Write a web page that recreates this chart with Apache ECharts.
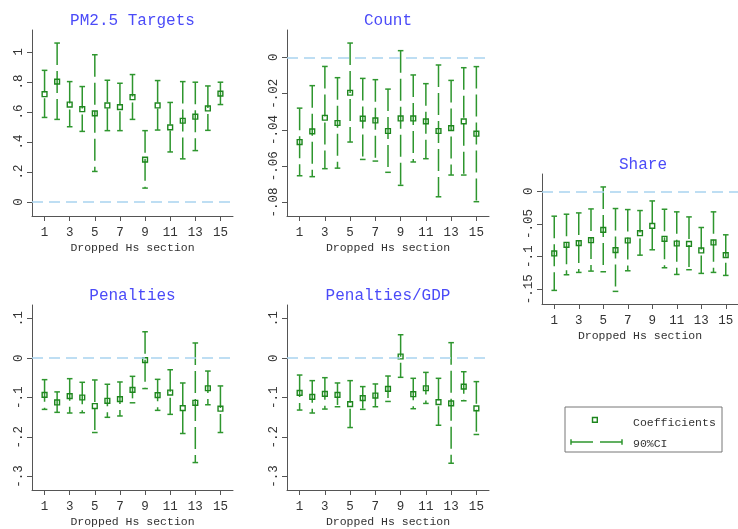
<!DOCTYPE html>
<html>
<head>
<meta charset="utf-8">
<script src="https://cdn.jsdelivr.net/npm/echarts@6/dist/echarts.min.js"></script>
<style>
  html, body { margin: 0; padding: 0; background: #fff; }
  #chart { width: 738px; height: 529px; }
</style>
</head>
<body>
<div id="chart"></div>
<script>
const sections = [1, 2, 3, 4, 5, 6, 7, 8, 9, 10, 11, 12, 13, 14, 15]
const xTicks = [1, 3, 5, 7, 9, 11, 13, 15]

// PM2.5 Targets
const pm25Coef = [0.719, 0.803, 0.650, 0.619, 0.591, 0.644, 0.633, 0.699, 0.283, 0.644, 0.498, 0.542, 0.569, 0.624, 0.723]
const pm25Lo = [0.564, 0.551, 0.502, 0.471, 0.204, 0.476, 0.476, 0.551, 0.093, 0.480, 0.334, 0.288, 0.343, 0.478, 0.650]
const pm25Hi = [0.878, 1.060, 0.803, 0.770, 0.982, 0.812, 0.792, 0.850, 0.476, 0.810, 0.664, 0.803, 0.799, 0.774, 0.799]
const pm25Ticks = [0, 0.2, 0.4, 0.6, 0.8, 1]

// Count
const countCoef = [-0.0467, -0.0408, -0.0333, -0.0362, -0.0195, -0.0338, -0.0348, -0.0406, -0.0337, -0.0337, -0.0353, -0.0406, -0.0390, -0.0353, -0.0421]
const countLo = [-0.0653, -0.0658, -0.0614, -0.0611, -0.0467, -0.0563, -0.0572, -0.0634, -0.0706, -0.0577, -0.0559, -0.0769, -0.0649, -0.0649, -0.0796]
const countHi = [-0.0280, -0.0156, -0.0050, -0.0112, 0.0079, -0.0116, -0.0123, -0.0175, 0.0037, -0.0097, -0.0145, -0.0042, -0.0127, -0.0057, -0.0051]
const countTicks = [0, -0.02, -0.04, -0.06, -0.08]

// Share
const shareCoef = [-0.0951, -0.0819, -0.0793, -0.0748, -0.0590, -0.0900, -0.0753, -0.0641, -0.0529, -0.0727, -0.0799, -0.0804, -0.0905, -0.0783, -0.0977]
const shareLo = [-0.1516, -0.1277, -0.1241, -0.1221, -0.1231, -0.1531, -0.1216, -0.0977, -0.0895, -0.1170, -0.1272, -0.1200, -0.1256, -0.1241, -0.1287]
const shareHi = [-0.0381, -0.0351, -0.0331, -0.0270, 0.0066, -0.0264, -0.0280, -0.0295, -0.0148, -0.0275, -0.0315, -0.0392, -0.0554, -0.0315, -0.0666]
const shareTicks = [0, -0.05, -0.1, -0.15]

// Penalties
const penCoef = [-0.0929, -0.1121, -0.0962, -0.0996, -0.1213, -0.1079, -0.1038, -0.0803, -0.0050, -0.0937, -0.0870, -0.1264, -0.1130, -0.0762, -0.1280]
const penLo = [-0.1297, -0.1372, -0.1389, -0.1381, -0.1883, -0.1498, -0.1464, -0.1130, -0.0770, -0.1322, -0.1423, -0.1908, -0.2644, -0.1180, -0.1883]
const penHi = [-0.0544, -0.0854, -0.0519, -0.0611, -0.0552, -0.0661, -0.0603, -0.0460, 0.0669, -0.0536, -0.0293, -0.0628, 0.0385, -0.0326, -0.0703]
const penTicks = [0.1, 0, -0.1, -0.2, -0.3]

// Penalties/GDP
const gdpCoef = [-0.0879, -0.0979, -0.0904, -0.0929, -0.1163, -0.1013, -0.0946, -0.0778, 0.0042, -0.0912, -0.0762, -0.1113, -0.1146, -0.0720, -0.1272]
const gdpLo = [-0.1314, -0.1389, -0.1289, -0.1230, -0.1757, -0.1297, -0.1230, -0.1096, -0.0485, -0.1280, -0.1146, -0.1699, -0.2661, -0.1079, -0.1933]
const gdpHi = [-0.0427, -0.0569, -0.0494, -0.0628, -0.0569, -0.0720, -0.0653, -0.0452, 0.0594, -0.0510, -0.0360, -0.0510, 0.0393, -0.0343, -0.0594]
const gdpTicks = [0.1, 0, -0.1, -0.2, -0.3]

const xName = 'Dropped Hs section'
const legendNames = ['Coefficients', '90%CI']

const FONT = '"Liberation Mono", "DejaVu Sans Mono", monospace'
const ciColor = '#2e962e'
const markColor = '#1d861d'
const axisColor = '#555'
const labelColor = '#333'
const zeroColor = '#a9d4f0'
const titleColor = '#4b4bf8'

// layout of the five panels
const panels = [
  { title: 'PM2.5 Targets', coef: pm25Coef, lo: pm25Lo, hi: pm25Hi, ticks: pm25Ticks,
    left: 32, top: 30, width: 201, height: 186, min: -0.093, max: 1.147 },
  { title: 'Count', coef: countCoef, lo: countLo, hi: countHi, ticks: countTicks,
    left: 287, top: 30, width: 202, height: 186, min: -0.0875, max: 0.0151 },
  { title: 'Share', coef: shareCoef, lo: shareLo, hi: shareHi, ticks: shareTicks,
    left: 542, top: 174, width: 202, height: 130, min: -0.1724, max: 0.0264 },
  { title: 'Penalties', coef: penCoef, lo: penLo, hi: penHi, ticks: penTicks,
    left: 32, top: 305, width: 201, height: 187, min: -0.3339, max: 0.1347 },
  { title: 'Penalties/GDP', coef: gdpCoef, lo: gdpLo, hi: gdpHi, ticks: gdpTicks,
    left: 287, top: 305, width: 202, height: 187, min: -0.3339, max: 0.1347 }
]

// stata style number: .2, -.05
const fmt = v => String(+v.toFixed(3)).replace('0.', '.')

function renderCI(params, api) {
  const x = api.value(0)
  const top = api.coord([x, api.value(2)])
  const bot = api.coord([x, api.value(1)])
  const cw = 2.8
  const style = { stroke: ciColor, lineWidth: 1.5 }
  return {
    type: 'group',
    children: [
      { type: 'line', shape: { x1: top[0], y1: top[1], x2: bot[0], y2: bot[1] },
        style: Object.assign({ lineDash: [22, 6] }, style) },
      { type: 'line', shape: { x1: top[0] - cw, y1: top[1], x2: top[0] + cw, y2: top[1] }, style },
      { type: 'line', shape: { x1: bot[0] - cw, y1: bot[1], x2: bot[0] + cw, y2: bot[1] }, style }
    ]
  }
}

const grid = [], xAxis = [], yAxis = [], series = [], title = []

panels.forEach((p, i) => {
  grid.push({ left: p.left, top: p.top, width: p.width, height: p.height })
  title.push({
    text: p.title,
    left: p.left + p.width / 2,
    top: p.top - 17,
    textAlign: 'center',
    padding: 0,
    textStyle: { fontFamily: FONT, fontSize: 16, fontWeight: 'normal', color: titleColor }
  })
  xAxis.push({
    type: 'value', gridIndex: i, min: 0, max: 16,
    name: xName, nameLocation: 'middle', nameGap: 26,
    nameTextStyle: { fontFamily: FONT, fontSize: 11.5, color: labelColor },
    axisLine: { show: true, onZero: false, lineStyle: { color: axisColor, width: 1 } },
    axisTick: { show: true, length: 5, customValues: xTicks, lineStyle: { color: axisColor } },
    axisLabel: { customValues: xTicks, margin: 10, fontFamily: FONT, fontSize: 12.5, color: labelColor },
    splitLine: { show: false }
  })
  yAxis.push({
    type: 'value', gridIndex: i, min: p.min, max: p.max,
    axisLine: { show: true, onZero: false, lineStyle: { color: axisColor, width: 1 } },
    axisTick: { show: true, length: 5, customValues: p.ticks, lineStyle: { color: axisColor } },
    axisLabel: { customValues: p.ticks, rotate: 90, margin: 7, fontFamily: FONT, fontSize: 12.5,
      color: labelColor, formatter: fmt },
    splitLine: { show: false }
  })
  series.push({
    name: legendNames[1], type: 'custom', xAxisIndex: i, yAxisIndex: i,
    renderItem: renderCI,
    encode: { x: 0, y: [1, 2] },
    data: sections.map((s, k) => [s, p.lo[k], p.hi[k]]),
    z: 2
  })
  series.push({
    name: legendNames[0], type: 'scatter', xAxisIndex: i, yAxisIndex: i,
    symbol: 'rect', symbolSize: 4.8,
    itemStyle: { color: 'rgba(0,0,0,0)', borderColor: markColor, borderWidth: 1.4, opacity: 1 },
    data: sections.map((s, k) => [s, p.coef[k]]),
    markLine: {
      silent: true, symbol: 'none', label: { show: false },
      lineStyle: { color: zeroColor, width: 1.5, type: [11, 6] },
      data: [{ yAxis: 0 }]
    },
    z: 3
  })
})

const graphic = [
  { type: 'rect', shape: { x: 565, y: 407, width: 157, height: 45 },
    style: { fill: '#fff', stroke: '#777', lineWidth: 1 } },
  { type: 'rect', shape: { x: 592.5, y: 417.5, width: 4.8, height: 4.8 },
    style: { fill: 'none', stroke: markColor, lineWidth: 1.4 } },
  { type: 'text', x: 633, y: 423, style: { text: legendNames[0], fontFamily: FONT, fontSize: 11.5,
    fill: labelColor, verticalAlign: 'middle' } },
  { type: 'polyline', shape: { points: [[571, 442], [622, 442]] },
    style: { stroke: ciColor, lineWidth: 1.5, lineDash: [22, 7] } },
  { type: 'line', shape: { x1: 571, y1: 439.2, x2: 571, y2: 444.8 }, style: { stroke: ciColor, lineWidth: 1.5 } },
  { type: 'line', shape: { x1: 622, y1: 439.2, x2: 622, y2: 444.8 }, style: { stroke: ciColor, lineWidth: 1.5 } },
  { type: 'text', x: 633, y: 443.5, style: { text: legendNames[1], fontFamily: FONT, fontSize: 11.5,
    fill: labelColor, verticalAlign: 'middle' } }
]

const chart = echarts.init(document.getElementById('chart'), null, { renderer: 'canvas' })
chart.setOption({
  backgroundColor: '#fff',
  animation: false,
  title, grid, xAxis, yAxis, series, graphic
})
</script>
</body>
</html>
